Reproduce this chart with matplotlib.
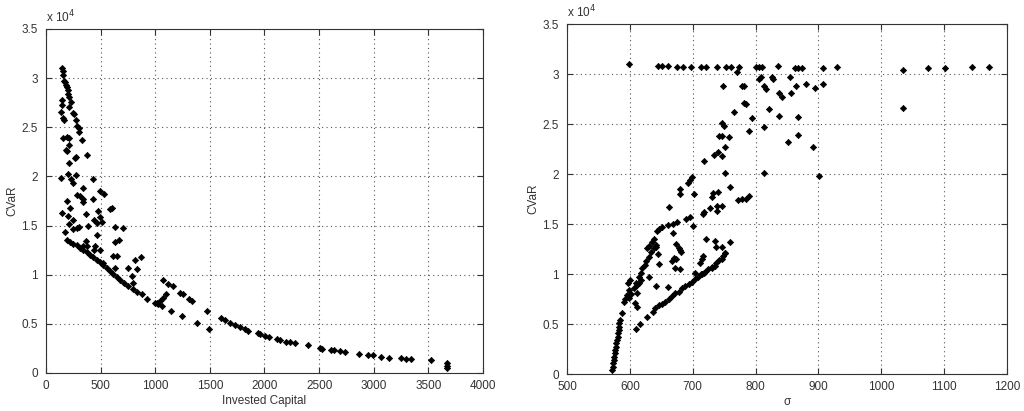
import matplotlib.pyplot as plt

# Left panel: Invested Capital vs CVaR (CVaR in units of 1e4)
cap = [143, 152, 158, 165, 174, 183, 189, 198, 204, 210, 226, 146, 143, 137, 152, 168,
       213, 244, 256, 274, 287, 302, 305, 326, 158, 189, 213, 213, 180, 189, 378, 213,
       274, 265, 137, 204, 229, 274, 433, 244, 335, 494, 530, 189, 287, 311, 427, 341,
       341, 219, 204, 244, 143, 174, 213, 250, 287, 302, 439, 463, 479, 494, 515, 585,
       601, 631, 701, 469, 366, 387, 631, 671, 341, 363, 378, 448, 494, 616, 646, 753,
       783, 814, 869, 829, 793, 631,
       189, 219, 250, 280, 311, 341, 372, 402, 433, 463, 494, 524, 555, 585, 616, 646,
       677, 713, 753, 793, 829, 875, 921, 997, 1027, 1058, 1140, 1241, 1378, 1494, 1470,
       1598, 1637, 1683, 1729, 1774, 1820, 1851, 1942, 1957, 2003, 2043, 2116, 2140, 2195,
       2232, 2277, 2399, 2506, 2530, 2607, 2637, 2689, 2741, 2866, 2948, 2994, 3064, 3140,
       3253, 3299, 3345, 3527, 3674, 3674, 3674,
       1073, 1113, 1158, 1225, 1250, 1308, 1332, 1043, 1073, 1098, 1012, 439, 524]
cvar_l = [3.10, 3.07, 3.03, 2.97, 2.96, 2.93, 2.91, 2.88, 2.84, 2.81, 2.76, 2.78, 2.73, 2.66, 2.59, 2.57,
          2.71, 2.65, 2.63, 2.57, 2.51, 2.49, 2.45, 2.37, 2.39, 2.40, 2.39, 2.32, 2.27, 2.26, 2.22, 2.14,
          2.20, 2.19, 1.98, 2.02, 1.97, 2.01, 1.97, 1.93, 1.88, 1.85, 1.82, 1.75, 1.81, 1.80, 1.77, 1.77,
          1.74, 1.68, 1.60, 1.56, 1.63, 1.43, 1.52, 1.46, 1.48, 1.49, 1.56, 1.53, 1.65, 1.59, 1.54, 1.67,
          1.68, 1.49, 1.48, 1.40, 1.62, 1.50, 1.33, 1.35, 1.29, 1.34, 1.29, 1.29, 1.25, 1.19, 1.19, 1.07,
          0.99, 1.15, 1.18, 1.06, 0.92, 1.07,
          1.35, 1.33, 1.31, 1.30, 1.27, 1.25, 1.23, 1.20, 1.18, 1.15, 1.13, 1.10, 1.07, 1.04, 1.01, 0.98,
          0.95, 0.92, 0.88, 0.85, 0.82, 0.80, 0.75, 0.71, 0.70, 0.68, 0.63, 0.58, 0.51, 0.45, 0.63,
          0.56, 0.54, 0.51, 0.49, 0.47, 0.45, 0.43, 0.41, 0.40, 0.38, 0.37, 0.35, 0.34, 0.32,
          0.32, 0.31, 0.28, 0.25, 0.24, 0.23, 0.23, 0.22, 0.21, 0.19, 0.18, 0.18, 0.16, 0.15,
          0.15, 0.14, 0.14, 0.13, 0.10, 0.07, 0.05,
          0.95, 0.91, 0.88, 0.81, 0.80, 0.75, 0.73, 0.73, 0.76, 0.80, 0.71, 1.25, 1.12]

# Right panel: sigma vs CVaR (CVaR in units of 1e4)
sigma = [599, 644, 651, 660, 675, 685, 697, 713, 721, 738, 753, 761, 773, 800, 805, 811, 835,
         862, 867, 874, 908, 930, 1035, 1075, 1102, 1144, 1172, 1035,
         770, 805, 809, 826, 827, 855, 814, 748, 779, 782, 816, 838, 842, 857, 865, 881, 894,
         907, 782, 784, 765, 794, 837, 822, 813, 868, 790, 747, 749, 742, 747, 758, 868, 852,
         891, 752, 741, 734, 747, 718, 752, 814, 901, 699, 696, 693, 680, 680, 702, 760, 732,
         740, 731, 772, 778, 785, 790, 747, 738, 662, 727, 738, 718, 717, 675, 689, 695, 668,
         660, 700, 651, 647, 643, 669, 639, 636, 735, 759, 746, 737, 751, 674, 678, 680, 682,
         721, 717, 714, 670, 674, 667, 628, 631, 641, 644, 646, 735, 731, 746, 672, 680, 712,
         703, 713, 718, 630, 642, 661, 612,
         572, 573, 573, 574, 575, 576, 577, 578, 578, 580, 581, 581, 582, 583, 583, 584, 587,
         590, 593, 595, 598, 601, 597, 599, 602, 606, 610, 614, 617, 620, 624, 626, 630, 634,
         638, 642, 611, 615, 618, 608, 611,
         609, 616, 627, 637, 640, 646, 651, 656, 662, 667, 672, 678, 683, 688, 694, 699, 704,
         709, 715, 720, 725, 731, 737, 742, 748, 752]
cvar_r = [3.10, 3.08, 3.08, 3.08, 3.07, 3.07, 3.07, 3.07, 3.07, 3.07, 3.07, 3.07, 3.07, 3.07, 3.07, 3.07, 3.08,
          3.06, 3.06, 3.06, 3.06, 3.07, 3.04, 3.06, 3.06, 3.07, 3.07, 2.66,
          3.02, 2.95, 2.97, 2.97, 2.95, 2.97, 2.88, 2.88, 2.88, 2.88, 2.85, 2.81, 2.77, 2.81, 2.88, 2.90, 2.86,
          2.90, 2.71, 2.70, 2.62, 2.56, 2.58, 2.65, 2.47, 2.57, 2.43, 2.51, 2.48, 2.38, 2.38, 2.37, 2.39, 2.32,
          2.27, 2.27, 2.22, 2.19, 2.18, 2.13, 2.01, 2.01, 1.98, 1.97, 1.94, 1.91, 1.85, 1.80, 1.80, 1.87, 1.81,
          1.82, 1.77, 1.74, 1.75, 1.75, 1.78, 1.68, 1.68, 1.67, 1.66, 1.63, 1.62, 1.60, 1.52, 1.55, 1.57, 1.50,
          1.49, 1.48, 1.47, 1.45, 1.43, 1.41, 1.35, 1.32, 1.33, 1.32, 1.27, 1.27, 1.21, 1.30, 1.26, 1.24, 1.22,
          1.35, 1.18, 1.15, 1.16, 1.15, 1.13, 1.26, 1.28, 1.27, 1.20, 1.10, 1.08, 1.06, 1.15, 1.06, 1.05, 1.11,
          1.01, 1.00, 1.01, 0.97, 0.88, 0.87, 0.81,
          0.04, 0.07, 0.11, 0.14, 0.17, 0.21, 0.24, 0.27, 0.31, 0.34, 0.37, 0.41, 0.44, 0.47, 0.51, 0.54, 0.61,
          0.72, 0.75, 0.79, 0.84, 0.94, 0.91, 0.76, 0.80, 0.86, 0.91, 0.97, 1.01, 1.06, 1.09, 1.13, 1.17, 1.22,
          1.26, 1.29, 0.89, 0.91, 0.94, 0.71, 0.67,
          0.45, 0.50, 0.57, 0.62, 0.66, 0.69, 0.70, 0.72, 0.75, 0.78, 0.81, 0.82, 0.86, 0.88, 0.90, 0.92, 0.95,
          0.97, 1.00, 1.02, 1.05, 1.07, 1.11, 1.14, 1.18, 1.21]

plt.rcParams['font.family'] = ['Liberation Sans', 'DejaVu Sans']
plt.rcParams['font.size'] = 8.5

fig = plt.figure(figsize=(10.24, 4.11), dpi=100)
ax1 = fig.add_axes([0.0449, 0.0925, 0.4268, 0.837])
ax2 = fig.add_axes([0.5537, 0.090, 0.4297, 0.8516])


def style(ax):
    ax.grid(True, linestyle=(0, (1, 3)), color='#555555', linewidth=0.8)
    ax.tick_params(direction='in', top=True, right=True, length=4, colors='#333333',
                   labelcolor='#333333')
    ax.tick_params(axis='y', pad=6)
    ax.tick_params(axis='x', pad=5)
    for s in ax.spines.values():
        s.set_color('#333333')
        s.set_linewidth(0.8)
    ax.set_ylim(0, 3.5)
    ax.set_yticks([0, 0.5, 1, 1.5, 2, 2.5, 3, 3.5])
    ax.set_yticklabels(['0', '0.5', '1', '1.5', '2', '2.5', '3', '3.5'])
    ax.set_ylabel('CVaR', color='#333333', labelpad=2)
    ax.text(0.0, 1.01, 'x 10$^4$', transform=ax.transAxes, ha='left', va='bottom',
            color='#333333', fontsize=8.5)


ax1.plot(cap, cvar_l, 'D', color='black', markersize=3.2, markeredgewidth=0.5)
ax1.set_xlim(0, 4000)
ax1.set_xticks(range(0, 4001, 500))
ax1.set_xlabel('Invested Capital', color='#333333', labelpad=2)
style(ax1)

ax2.plot(sigma, cvar_r, 'D', color='black', markersize=3.2, markeredgewidth=0.5)
ax2.set_xlim(500, 1200)
ax2.set_xticks(range(500, 1201, 100))
ax2.set_xlabel('σ', color='#333333', labelpad=2)
style(ax2)

fig.savefig('out.png', dpi=100)
